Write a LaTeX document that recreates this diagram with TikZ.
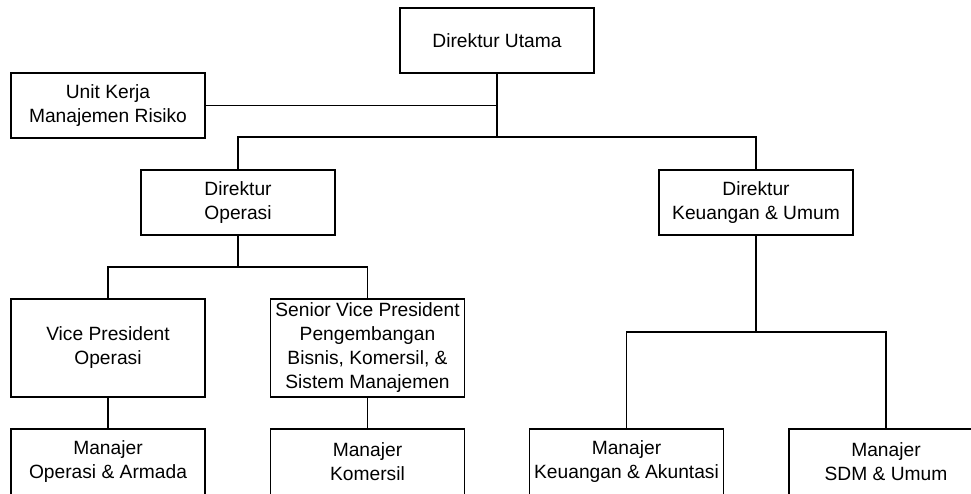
\documentclass[tikz,border=0pt]{standalone}
\usepackage{fontspec}
\setmainfont{Liberation Sans}
\usetikzlibrary{positioning}

\begin{document}
\begin{tikzpicture}[x=1pt,y=-1pt,line width=1.2pt]
  \clip (0,0) rectangle (971,493);
  \begin{scope}[every node/.style={rectangle,draw,minimum width=194pt,minimum height=65pt,inner sep=0pt,align=center,font=\fontsize{19.2}{24}\selectfont}]
    \node (utama) at (497,40.5) {Direktur Utama};
    \node (risiko) at (108,105.5) {Unit Kerja\\Manajemen Risiko};
    \node (dirops) at (238,202.5) {Direktur\\Operasi};
    \node (dirkeu) at (756,202.5) {Direktur\\Keuangan \& Umum};
    \node[minimum height=98pt] (vpops) at (108,348) {Vice President\\Operasi};
    \node[minimum height=98pt] (svp) at (367.5,348) {Senior Vice President\\Pengembangan\\Bisnis, Komersil, \&\\Sistem Manajemen};
    \node[minimum height=66pt] (mgrops) at (108,462) {Manajer\\Operasi \& Armada};
    \node[minimum height=66pt] (mgrkom) at (367.5,462) {Manajer\\Komersil};
    \node[minimum height=66pt] (mgrkeu) at (626.5,462) {Manajer\\Keuangan \& Akuntasi};
    \node[minimum height=66pt] (mgrsdm) at (886,462) {Manajer\\SDM \& Umum};
  \end{scope}
  \coordinate (top) at (utama.south |- 0,137);
  \coordinate (ops) at (dirops.south |- 0,267);
  \coordinate (keu) at (dirkeu.south |- 0,332);

  \draw (utama.south) -- (top);
  \draw (risiko.east) -- (risiko.east -| utama.south);
  \draw (dirops.north) |- (top) -| (dirkeu.north);

  \draw (dirops.south) -- (ops);
  \draw (vpops.north) |- (ops) -| (svp.north);
  \draw (vpops.south) -- (mgrops.north);
  \draw (svp.south) -- (mgrkom.north);

  \draw (dirkeu.south) -- (keu);
  \draw (mgrkeu.north) |- (keu) -| (mgrsdm.north);
\end{tikzpicture}
\end{document}
